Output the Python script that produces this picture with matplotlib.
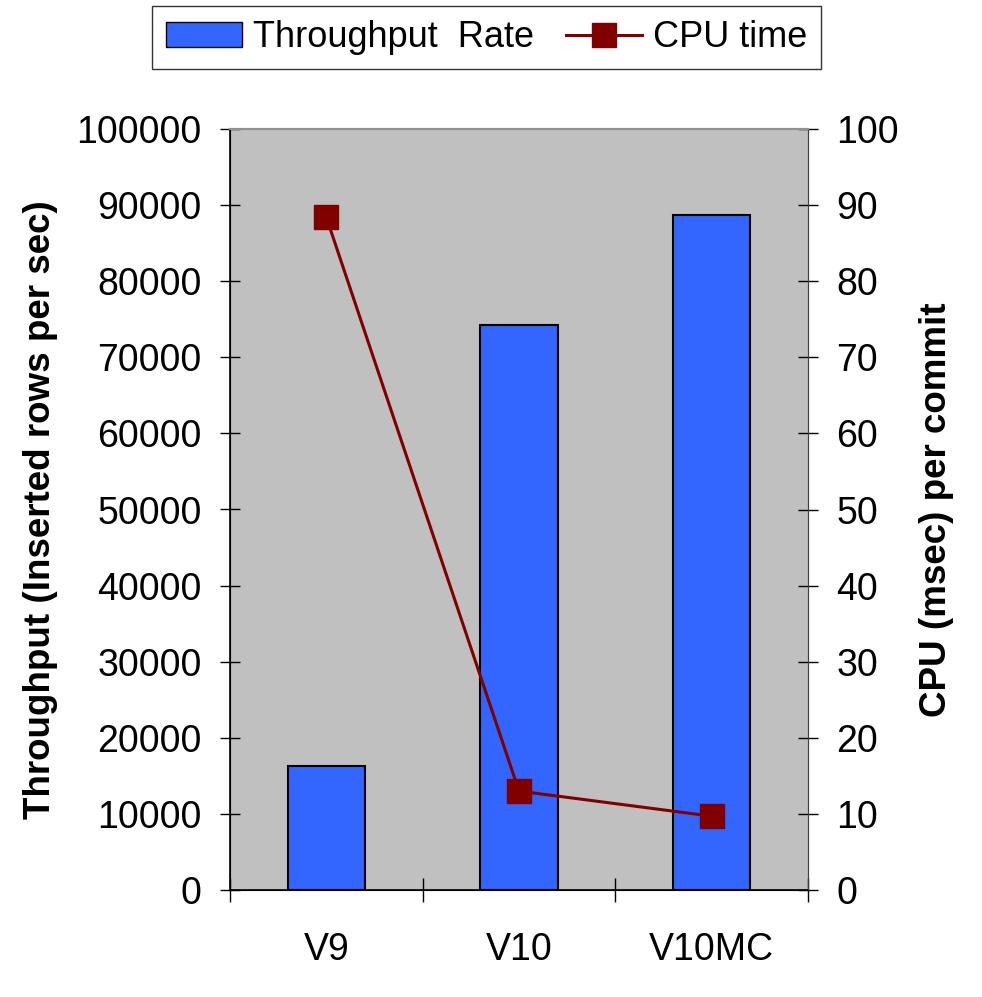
import matplotlib
matplotlib.use("Agg")
import matplotlib.pyplot as plt
from matplotlib.patches import Patch
from matplotlib.lines import Line2D

categories = ["V9", "V10", "V10MC"]
throughput = [16300, 74300, 88700]
cpu_time = [88.4, 13.0, 9.7]
y_left_ticks = [0, 10000, 20000, 30000, 40000, 50000, 60000, 70000, 80000, 90000, 100000]
y_right_ticks = [0, 10, 20, 30, 40, 50, 60, 70, 80, 90, 100]

plt.rcParams['font.family'] = ['Liberation Sans', 'DejaVu Sans']

fig = plt.figure(figsize=(9.82, 9.97), dpi=100)
ax = fig.add_axes([230/982, 1-890/997, 578/982, 761/997])
ax.set_facecolor('#C0C0C0')

x = list(range(len(categories)))
ax.bar(x, throughput, width=0.40, color='#3366FF', edgecolor='black', linewidth=1.5, zorder=2)
ax.set_xlim(-0.5, len(categories) - 0.5)
ax.set_ylim(0, 100000)
ax.set_yticks(y_left_ticks)
ax.set_yticklabels([str(v) for v in y_left_ticks])
ax.tick_params(axis='y', direction='inout', length=15, width=1, pad=13, labelsize=27)
ax.set_xticks(x)
ax.set_xticklabels(categories)
ax.tick_params(axis='x', which='major', length=0, pad=30, labelsize=27)
ax.set_xticks([i - 0.5 for i in range(len(categories) + 1)], minor=True)
ax.tick_params(axis='x', which='minor', direction='inout', length=17, width=1)
ax.set_ylabel('Throughput (Inserted rows per sec)', fontsize=26.5, fontweight='bold', labelpad=13)

for s in ['left', 'bottom']:
    ax.spines[s].set_color('black')
    ax.spines[s].set_linewidth(1.2)
ax.spines['top'].set_color('#909090')
ax.spines['top'].set_linewidth(1.5)
ax.spines['right'].set_color('#606060')

ax2 = ax.twinx()
ax2.plot(x, cpu_time, color='#800000', linewidth=2.2, marker='s', markersize=17, zorder=3)
ax2.set_ylim(0, 100)
ax2.set_yticks(y_right_ticks)
ax2.set_yticklabels([str(v) for v in y_right_ticks])
ax2.tick_params(axis='y', direction='inout', length=15, width=1, pad=13, labelsize=27)
ax2.set_ylabel('CPU (msec) per commit', fontsize=26.5, fontweight='bold', labelpad=14)
ax2.spines['right'].set_color('#404040')
ax2.spines['top'].set_color('#909090')
ax2.spines['top'].set_linewidth(1.5)

handles = [Patch(facecolor='#3366FF', edgecolor='black', linewidth=1),
           Line2D([0], [0], color='#800000', linewidth=2.2, marker='s', markersize=17)]
leg = fig.legend(handles, ['Throughput  Rate', 'CPU time'], loc='center',
                 bbox_to_anchor=(486.5/982, 1-37.5/997), ncol=2, fontsize=26,
                 frameon=True, fancybox=False, edgecolor='black', borderpad=0.4,
                 handlelength=2.1, handleheight=0.67, columnspacing=0.9, handletextpad=0.3,
                 borderaxespad=0)
leg.get_frame().set_linewidth(1.0)

fig.savefig('out.png', dpi=100)
